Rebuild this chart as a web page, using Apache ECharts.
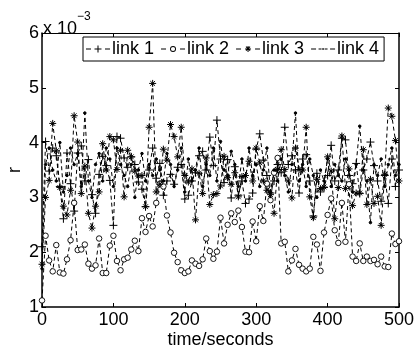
<!DOCTYPE html>
<html>
<head>
<meta charset="utf-8">
<script src="https://cdn.jsdelivr.net/npm/echarts@6/dist/echarts.min.js"></script>
<style>
html,body{margin:0;padding:0;background:#fff;}
#chart{width:416px;height:354px;}
</style>
</head>
<body>
<div id="chart"></div>
<script>
// time axis (seconds), one sample every 5 s
const times = [];
for (let t = 0; t <= 500; t += 5) times.push(t);

// r values in units of 1e-3 (axis shows "x 10^-3")
const link1 = [2.10,4.02,3.48,3.90,3.76,3.20,2.61,3.81,3.25,2.75,3.81,3.94,3.30,3.69,3.05,2.71,3.42,3.75,3.58,3.31,
  2.49,4.11,4.08,3.72,3.55,3.74,3.60,3.28,3.15,2.83,3.50,3.90,3.35,3.62,3.04,3.30,3.42,3.24,3.55,3.60,
  2.97,3.04,3.30,3.45,3.76,3.84,3.50,4.10,3.58,4.41,3.70,3.27,3.69,2.99,3.56,3.04,3.30,2.89,2.97,3.08,
  3.88,4.16,3.68,3.40,3.08,3.30,3.60,3.45,4.28,3.60,3.76,3.50,3.08,3.70,3.78,3.30,2.66,3.44,3.10,3.18,
  3.40,3.95,3.30,3.50,4.08,4.05,3.40,3.25,3.62,3.07,3.50,3.70,4.01,3.58,3.30,2.93,3.40,2.89,3.70,3.20,3.50];
const link2 = [1.12,2.30,1.85,1.65,2.13,1.63,1.61,1.87,2.22,2.90,2.04,2.05,2.14,1.79,1.70,1.76,2.25,1.62,1.62,2.12,
  2.30,1.84,1.67,1.87,1.90,2.05,2.21,2.02,2.62,2.37,2.66,2.47,2.90,3.25,3.20,2.67,2.36,1.99,1.82,1.67,
  1.62,1.65,1.85,1.79,1.75,1.87,2.25,2.02,1.88,2.01,2.63,2.16,2.50,2.71,2.55,2.76,2.46,2.01,2.00,2.56,
  2.20,2.84,2.57,3.25,2.95,3.45,3.72,2.16,2.19,1.65,1.85,2.06,1.77,1.70,1.65,1.70,2.28,2.14,1.66,2.36,
  2.68,2.98,2.40,2.17,2.90,2.19,3.24,1.92,1.84,2.16,1.84,1.92,1.84,1.86,1.78,1.92,1.74,1.73,2.34,2.15,2.20];
const link3 = [1.78,3.00,3.31,4.35,3.85,3.18,2.84,2.68,3.13,4.49,4.01,3.07,3.57,2.71,2.44,2.84,3.10,3.98,3.50,4.11,
  4.05,3.51,3.86,3.01,3.86,3.74,3.48,3.39,3.40,2.83,4.28,5.08,3.10,3.24,3.88,3.68,4.33,4.11,3.74,4.28,
  3.40,3.28,3.52,2.59,3.44,3.07,3.72,2.87,3.05,3.07,3.21,3.75,3.36,3.24,3.45,3.01,3.38,3.40,3.66,3.30,
  3.90,3.63,3.30,3.13,3.05,2.71,3.51,3.87,3.51,3.30,2.99,3.90,3.51,3.50,4.28,3.01,2.63,3.33,3.16,3.19,
  3.74,3.48,2.61,3.18,4.12,3.16,3.52,2.85,3.08,3.08,3.87,2.87,3.33,2.89,3.02,2.49,3.42,4.63,4.48,4.04,3.30];
const link4 = [1.70,3.60,3.90,3.50,3.30,4.00,3.10,3.40,3.90,3.60,3.80,3.20,4.54,3.30,3.00,3.60,3.80,3.30,3.90,3.70,
  3.20,3.90,3.60,3.40,3.20,3.60,3.00,3.50,3.80,3.30,3.60,3.40,3.70,3.50,3.30,3.80,3.60,3.20,3.50,3.90,
  3.10,3.70,3.30,3.50,3.90,3.20,3.60,3.40,3.90,3.30,4.02,3.50,3.40,3.84,3.60,3.20,3.70,3.30,3.90,3.40,
  3.60,3.20,3.50,3.90,3.10,3.50,3.30,3.70,3.40,3.10,3.60,4.54,3.30,3.60,3.20,3.70,3.40,3.00,3.50,3.30,
  3.70,3.20,3.60,3.40,3.30,3.70,3.50,3.10,3.60,4.30,3.50,3.30,2.54,3.60,3.40,3.70,3.20,3.60,3.90,3.40,3.60];

const seriesNames = ['link 1', 'link 2', 'link 3', 'link 4'];
const xTicks = [0, 100, 200, 300, 400, 500];
const yTicks = [1, 2, 3, 4, 5, 6];

const FONT = 'Liberation Sans, Arial, Helvetica, sans-serif';
const plusPath = 'path://M5,0L5,10M0,5L10,5';
const starPath = 'path://M5,0L5,10M0,5L10,5M1.6,1.6L8.4,8.4M8.4,1.6L1.6,8.4';

// legend icons drawn in a 24x10 box (dash, marker, dash)
const corners = 'M0,0L0.01,0L0.01,0.01Z M24,10L23.99,10L23.99,9.99Z ';
const dashes = 'M0,4.5h5v1h-5Z M19,4.5h5v1h-5Z ';
const legendIcons = [
  'path://' + corners + dashes + 'M8.5,4.5h7v1h-7Z M11.5,1.5h1v7h-1Z',
  'path://' + corners + dashes + 'M15,5A3,3 0 1 0 9,5A3,3 0 1 0 15,5Z M14.1,5A2.1,2.1 0 1 1 9.9,5A2.1,2.1 0 1 1 14.1,5Z',
  'path://' + corners + dashes + 'M9,4.5h6v1h-6Z M11.5,2h1v6h-1Z M9.6,2.9L10.3,2.2L14.4,6.3L13.7,7Z M13.7,2.2L14.4,2.9L10.3,7L9.6,6.3Z',
  'path://' + corners + dashes + 'M7.5,4.5h3v1h-3Z M13.5,4.5h3v1h-3Z M11.2,4.2h1.6v1.6h-1.6Z'
];

function pairs(arr) { return arr.map((v, i) => [times[i], v]); }

function mk(name, data, symbol, size, itemStyle) {
  return {
    name: name,
    type: 'line',
    xAxisIndex: 0, yAxisIndex: 0,
    data: pairs(data),
    symbol: symbol,
    symbolSize: size,
    showAllSymbol: true,
    animation: false,
    lineStyle: { color: '#000', width: 1, type: [4, 3] },
    itemStyle: itemStyle || { color: '#000', borderColor: '#000', borderWidth: 1 },
    emphasis: { disabled: true }
  };
}

const chart = echarts.init(document.getElementById('chart'), null, { renderer: 'canvas' });
chart.setOption({
  animation: false,
  backgroundColor: '#fff',
  textStyle: { fontFamily: FONT, color: '#000' },
  grid: { left: 42, right: 17, top: 33, bottom: 47, show: false, containLabel: false, outerBoundsMode: 'none' },
  xAxis: [
    { type: 'value', min: xTicks[0], max: xTicks[xTicks.length - 1], interval: 100,
      name: 'time/seconds', nameLocation: 'middle', nameGap: 24, nameMoveOverlap: false,
      nameTextStyle: { fontSize: 18, color: '#000', fontFamily: FONT },
      axisLine: { lineStyle: { color: '#000', width: 1.5 } },
      axisTick: { inside: true, length: 4, lineStyle: { color: '#000' } },
      axisLabel: { fontSize: 18, color: '#000', margin: 4, fontFamily: FONT },
      splitLine: { show: false } },
    { type: 'value', position: 'top', min: 0, max: 500, interval: 100,
      axisLine: { onZero: false, lineStyle: { color: '#000', width: 1 } },
      axisTick: { inside: true, length: 4, lineStyle: { color: '#000' } },
      axisLabel: { show: false }, splitLine: { show: false } }
  ],
  yAxis: [
    { type: 'value', min: yTicks[0], max: yTicks[yTicks.length - 1], interval: 1,
      name: 'r', nameLocation: 'middle', nameGap: 18, nameRotate: 90, nameMoveOverlap: false,
      nameTextStyle: { fontSize: 18, color: '#000', fontFamily: FONT },
      axisLine: { show: true, lineStyle: { color: '#000', width: 1.5 } },
      axisTick: { show: true, inside: true, length: 4, lineStyle: { color: '#000' } },
      axisLabel: { fontSize: 18, color: '#000', margin: 3, fontFamily: FONT },
      splitLine: { show: false } },
    { type: 'value', position: 'right', min: 1, max: 6, interval: 1,
      axisLine: { show: true, onZero: false, lineStyle: { color: '#000', width: 1.5 } },
      axisTick: { show: true, inside: true, length: 4, lineStyle: { color: '#000' } },
      axisLabel: { show: false }, splitLine: { show: false } }
  ],
  legend: {
    left: 83, top: 37,
    padding: [3, 5, 3, 3],
    itemGap: 7,
    itemWidth: 24, itemHeight: 10,
    backgroundColor: '#fff',
    borderColor: '#000', borderWidth: 1, borderRadius: 0,
    itemStyle: { color: '#000', borderWidth: 0 },
    textStyle: { fontSize: 18, color: '#000', fontFamily: FONT, padding: [0, 0, 0, -3] },
    data: seriesNames.map((n, i) => ({ name: n, icon: legendIcons[i] }))
  },
  graphic: [{
    type: 'text', left: 43, top: 11,
    style: {
      text: '{a|x 10}{b|−3}',
      rich: {
        a: { fontSize: 18, fontFamily: FONT, fill: '#000', padding: [9, 0, 0, 0] },
        b: { fontSize: 12, fontFamily: FONT, fill: '#000', verticalAlign: 'top' }
      }
    }
  }],
  series: [
    mk(seriesNames[0], link1, plusPath, 8),
    mk(seriesNames[1], link2, 'circle', 5.5, { color: '#fff', borderColor: '#000', borderWidth: 0.9 }),
    mk(seriesNames[2], link3, starPath, 7),
    mk(seriesNames[3], link4, 'circle', 2.5)
  ]
});
</script>
</body>
</html>
